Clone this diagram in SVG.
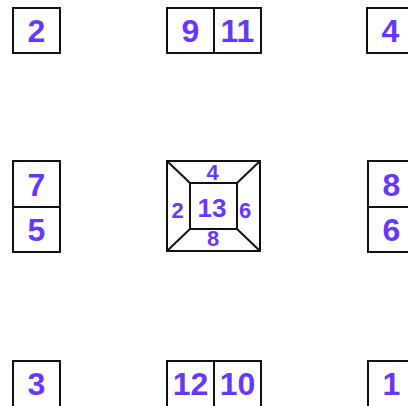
<svg xmlns="http://www.w3.org/2000/svg" width="408" height="406" viewBox="0 0 408 406">
<style>
.b{fill:#fff;stroke:#111;stroke-width:2}
.l{stroke:#111;stroke-width:2;fill:none}
.t{font-family:"Liberation Sans",Arial,sans-serif;font-weight:bold;font-size:32px;fill:#6638ff;text-anchor:middle}
.s{font-size:22px}
.m{font-size:26px}
</style>
<rect width="408" height="406" fill="#fff"/>
<g id="n-top-left"><rect class="b" x="13" y="8" width="47" height="45"/><text class="t" x="36.5" y="42">2</text></g>
<g id="n-top-center"><rect class="b" x="167" y="8" width="94" height="45"/><line class="l" x1="214" y1="8" x2="214" y2="53"/><text class="t" x="190.5" y="42">9</text><text class="t" x="237.5" y="42">11</text></g>
<g id="n-top-right"><rect class="b" x="367" y="8" width="47" height="45"/><text class="t" x="390.5" y="42">4</text></g>
<g id="n-mid-left"><rect class="b" x="13" y="161" width="47" height="91"/><line class="l" x1="13" y1="207" x2="60" y2="207"/><text class="t" x="36.5" y="196">7</text><text class="t" x="36.5" y="241">5</text></g>
<g id="n-center"><rect class="b" x="167" y="161" width="93" height="90"/><rect class="b" x="190" y="183" width="47" height="46"/>
<line class="l" x1="167" y1="161" x2="190" y2="183"/><line class="l" x1="260" y1="161" x2="237" y2="183"/><line class="l" x1="167" y1="251" x2="190" y2="229"/><line class="l" x1="260" y1="251" x2="237" y2="229"/>
<text class="t s" x="212.5" y="180">4</text><text class="t s" x="213" y="246">8</text><text class="t s" x="177.5" y="218">2</text><text class="t s" x="245" y="218">6</text><text class="t m" x="212" y="217">13</text></g>
<g id="n-mid-right"><rect class="b" x="368" y="161" width="47" height="91"/><line class="l" x1="368" y1="207" x2="415" y2="207"/><text class="t" x="391.5" y="196">8</text><text class="t" x="391.5" y="241">6</text></g>
<g id="n-bot-left"><rect class="b" x="13" y="361" width="47" height="46"/><text class="t" x="36.5" y="395">3</text></g>
<g id="n-bot-center"><rect class="b" x="167" y="361" width="94" height="46"/><line class="l" x1="214" y1="361" x2="214" y2="407"/><text class="t" x="190.5" y="395">12</text><text class="t" x="237.5" y="395">10</text></g>
<g id="n-bot-right"><rect class="b" x="368" y="361" width="47" height="46"/><text class="t" x="391.5" y="395">1</text></g>
<g id="connectors"></g>
</svg>
